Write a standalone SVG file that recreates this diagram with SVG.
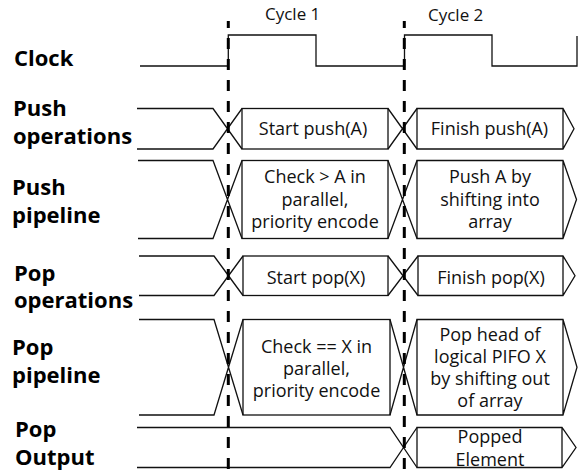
<svg xmlns="http://www.w3.org/2000/svg" width="582" height="470" viewBox="0 0 582 470">
<style>
.lbl{font-family:"Open Sans","Liberation Sans",sans-serif;font-weight:bold;font-size:22px;fill:#000}
.txt{font-family:"Open Sans","Liberation Sans",sans-serif;font-size:18px;fill:#111;text-anchor:middle}
.cyc{font-family:"Open Sans","Liberation Sans",sans-serif;font-size:17px;fill:#111}
.w{fill:none;stroke:#111;stroke-width:1.3;stroke-linejoin:miter}
.dash{fill:none;stroke:#000;stroke-width:3;stroke-dasharray:11 10;stroke-dashoffset:4}
</style>
<rect width="582" height="470" fill="#fff"/>

<g id="labels">
<text class="lbl" x="14" y="66">Clock</text>
<text class="lbl" x="13" y="115.5">Push</text>
<text class="lbl" x="13" y="144">operations</text>
<text class="lbl" x="12" y="194.5">Push</text>
<text class="lbl" x="12" y="223">pipeline</text>
<text class="lbl" x="14" y="280.7">Pop</text>
<text class="lbl" x="14" y="308.3">operations</text>
<text class="lbl" x="12" y="354.5">Pop</text>
<text class="lbl" x="12" y="382.5">pipeline</text>
<text class="lbl" x="15" y="436.7">Pop</text>
<text class="lbl" x="15" y="465">Output</text>
</g>

<g id="cycles">
<text class="cyc" x="265" y="20">Cycle 1</text>
<text class="cyc" x="428" y="20.5">Cycle 2</text>
</g>

<g id="clock">
<path class="w" d="M140,66 H228.3 V35 H316 V66 H404.5 V35 H492 V66 H577 V36"/>
</g>

<g id="push-ops">
<path class="w" d="M137,108.5 H213 L242,149 M137,149 H213 L242,108.5"/>
<g id="push-ops-1">
<rect class="w" x="242" y="108.5" width="146" height="40.5"/>
<text class="txt" x="313" y="135">Start push(A)</text>
</g>
<path class="w" d="M388,108.5 L417,149 M388,149 L417,108.5"/>
<g id="push-ops-2">
<path class="w" d="M417,108.5 H563 L574,128.75 L563,149 H417 Z M563,108.5 V149"/>
<text class="txt" x="489.5" y="135">Finish push(A)</text>
</g>
</g>

<g id="push-pipe">
<path class="w" d="M138,160.5 H213 L242,238.5 M138,238.5 H213 L242,160.5"/>
<g id="push-pipe-1">
<rect class="w" x="242" y="160.5" width="146" height="78"/>
<text class="txt" x="315" y="183.3">Check &gt; A in</text>
<text class="txt" x="315" y="205.8">parallel,</text>
<text class="txt" x="315" y="228.3">priority encode</text>
</g>
<path class="w" d="M388,160.5 L417,238.5 M388,238.5 L417,160.5"/>
<g id="push-pipe-2">
<path class="w" d="M417,160.5 H563 L576.5,199.5 L563,238.5 H417 Z M563,160.5 V238.5"/>
<text class="txt" x="490" y="183.3">Push A by</text>
<text class="txt" x="490" y="205.8">shifting into</text>
<text class="txt" x="490" y="228.3">array</text>
</g>
</g>

<g id="pop-ops">
<path class="w" d="M139,256 H214 L243,295.5 M139,295.5 H214 L243,256"/>
<g id="pop-ops-1">
<rect class="w" x="243" y="256" width="145" height="39.5"/>
<text class="txt" x="316" y="283.5">Start pop(X)</text>
</g>
<path class="w" d="M388,256 L418,295.5 M388,295.5 L418,256"/>
<g id="pop-ops-2">
<path class="w" d="M418,256 H563 L575,275.75 L563,295.5 H418 Z M563,256 V295.5"/>
<text class="txt" x="491" y="284">Finish pop(X)</text>
</g>
</g>

<g id="pop-pipe">
<path class="w" d="M139,319.5 H214 L243,415 M139,415 H214 L243,319.5"/>
<g id="pop-pipe-1">
<rect class="w" x="243" y="319.5" width="147" height="95.5"/>
<text class="txt" x="316.5" y="353">Check == X in</text>
<text class="txt" x="316.5" y="375">parallel,</text>
<text class="txt" x="316.5" y="397">priority encode</text>
</g>
<path class="w" d="M390,319.5 L417,415 M390,415 L417,319.5"/>
<g id="pop-pipe-2">
<path class="w" d="M417,319.5 H563 L577,367.25 L563,415 H417 Z M563,319.5 V415"/>
<text class="txt" x="490" y="340.5">Pop head of</text>
<text class="txt" x="490" y="362.5">logical PIFO X</text>
<text class="txt" x="490" y="384.5">by shifting out</text>
<text class="txt" x="490" y="406.5">of array</text>
</g>
</g>

<g id="pop-out">
<path class="w" d="M137,427.5 H390 L417,467.5 M137,467.5 H390 L417,427.5"/>
<g id="pop-out-1">
<path class="w" d="M417,427.5 H562 L576,447.5 L562,467.5 H417 Z M562,427.5 V467.5"/>
<text class="txt" x="490" y="443">Popped</text>
<text class="txt" x="490" y="466">Element</text>
</g>
</g>

<g id="connectors">
<line class="dash" x1="228.3" y1="21" x2="228.3" y2="470"/>
<line class="dash" x1="404.3" y1="21" x2="404.3" y2="470"/>
</g>
</svg>
